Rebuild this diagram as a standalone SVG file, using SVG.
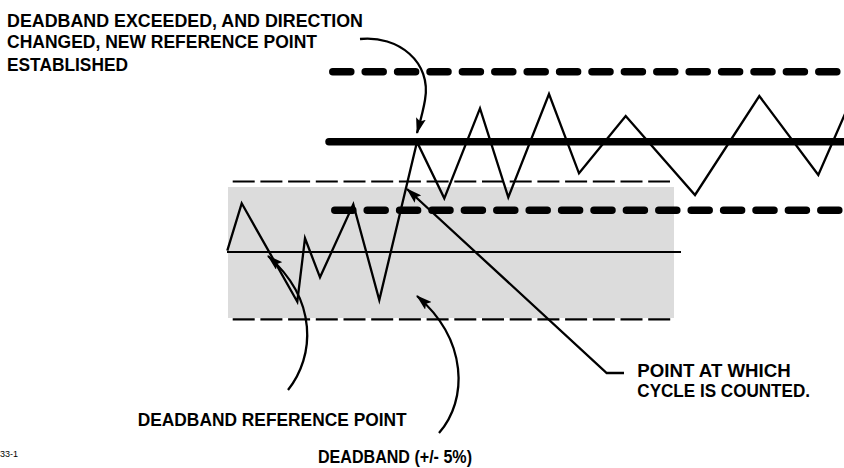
<svg xmlns="http://www.w3.org/2000/svg" width="844" height="468" viewBox="0 0 844 468">
  <style>
    .lbl { font-family: "Liberation Sans", "Open Sans", sans-serif; font-weight: 700; font-size: 18px; fill: #000; }
    .small { font-family: "Liberation Sans", sans-serif; font-size: 9px; fill: #000; }
    .thick-dash { stroke: #000; stroke-width: 7.5; stroke-linecap: round; stroke-dasharray: 18 14.4; fill: none; }
    .thin-dash { stroke: #000; stroke-width: 2.2; stroke-dasharray: 22 5.7; fill: none; }
    .wave { stroke: #000; stroke-width: 2.3; fill: none; stroke-linejoin: miter; stroke-miterlimit: 10; }
    .conn { stroke: #000; stroke-width: 2.3; fill: none; marker-end: url(#ah); }
  </style>
  <defs>
    <marker id="ah" viewBox="0 0 16 10" refX="15" refY="5" markerWidth="16" markerHeight="10" markerUnits="userSpaceOnUse" orient="auto">
      <path d="M0,0 L16,5 L0,10 L3,5 Z" fill="#000"/>
    </marker>
  </defs>
  <rect width="844" height="468" fill="#fff"/>

  <g id="deadband-band">
    <rect x="228" y="187" width="446" height="131" fill="#dcdcdc"/>
    <line class="thin-dash" x1="232.7" y1="181.5" x2="670" y2="181.5"/>
    <line class="thin-dash" x1="232.7" y1="319.3" x2="672" y2="319.3"/>
    <line x1="227" y1="252" x2="681" y2="252" stroke="#000" stroke-width="2"/>
  </g>

  <g id="new-band">
    <line class="thick-dash" x1="332.8" y1="71.7" x2="850" y2="71.7"/>
    <line x1="329" y1="141.7" x2="844" y2="141.7" stroke="#000" stroke-width="7.5" stroke-linecap="round"/>
    <line class="thick-dash" x1="334.8" y1="210.3" x2="850" y2="210.3"/>
  </g>

  <g id="signal">
    <polyline class="wave" points="227.3,250.7 241.7,203.3 297.3,301.7 305,238.3 320,277.3 353.3,204.3 379.3,300 417,142 444.3,198.3 480,108.3 508.3,197.3 549,94 579,173.3 625.7,116 695,195 759.3,96 818.3,175 848,107"/>
  </g>

  <g id="connectors">
    <path class="conn" d="M360,39 C398,35 432,62 425,100 C423,112 420,122 417,133"/>
    <path class="conn" d="M624,373 L606.7,373 L407,189"/>
    <path class="conn" d="M288,390 C315,356 318,300 268,256"/>
    <path class="conn" d="M439,433 C468,400 468,340 417,296"/>
  </g>

  <g id="label-exceeded">
    <text class="lbl" x="7" y="26.7" textLength="356" lengthAdjust="spacingAndGlyphs">DEADBAND EXCEEDED, AND DIRECTION</text>
    <text class="lbl" x="7" y="48.3" textLength="310" lengthAdjust="spacingAndGlyphs">CHANGED, NEW REFERENCE POINT</text>
    <text class="lbl" x="7" y="71" textLength="121" lengthAdjust="spacingAndGlyphs">ESTABLISHED</text>
  </g>
  <g id="label-cycle">
    <text class="lbl" x="637.3" y="376.7" textLength="153.4" lengthAdjust="spacingAndGlyphs">POINT AT WHICH</text>
    <text class="lbl" x="637.3" y="397.3" textLength="172.7" lengthAdjust="spacingAndGlyphs">CYCLE IS COUNTED.</text>
  </g>
  <g id="label-refpoint">
    <text class="lbl" x="137.7" y="425.5" textLength="269" lengthAdjust="spacingAndGlyphs">DEADBAND REFERENCE POINT</text>
  </g>
  <g id="label-deadband">
    <text class="lbl" x="318" y="463" textLength="154" lengthAdjust="spacingAndGlyphs">DEADBAND (+/- 5%)</text>
  </g>
  <text class="small" x="0" y="457">33-1</text>
</svg>
